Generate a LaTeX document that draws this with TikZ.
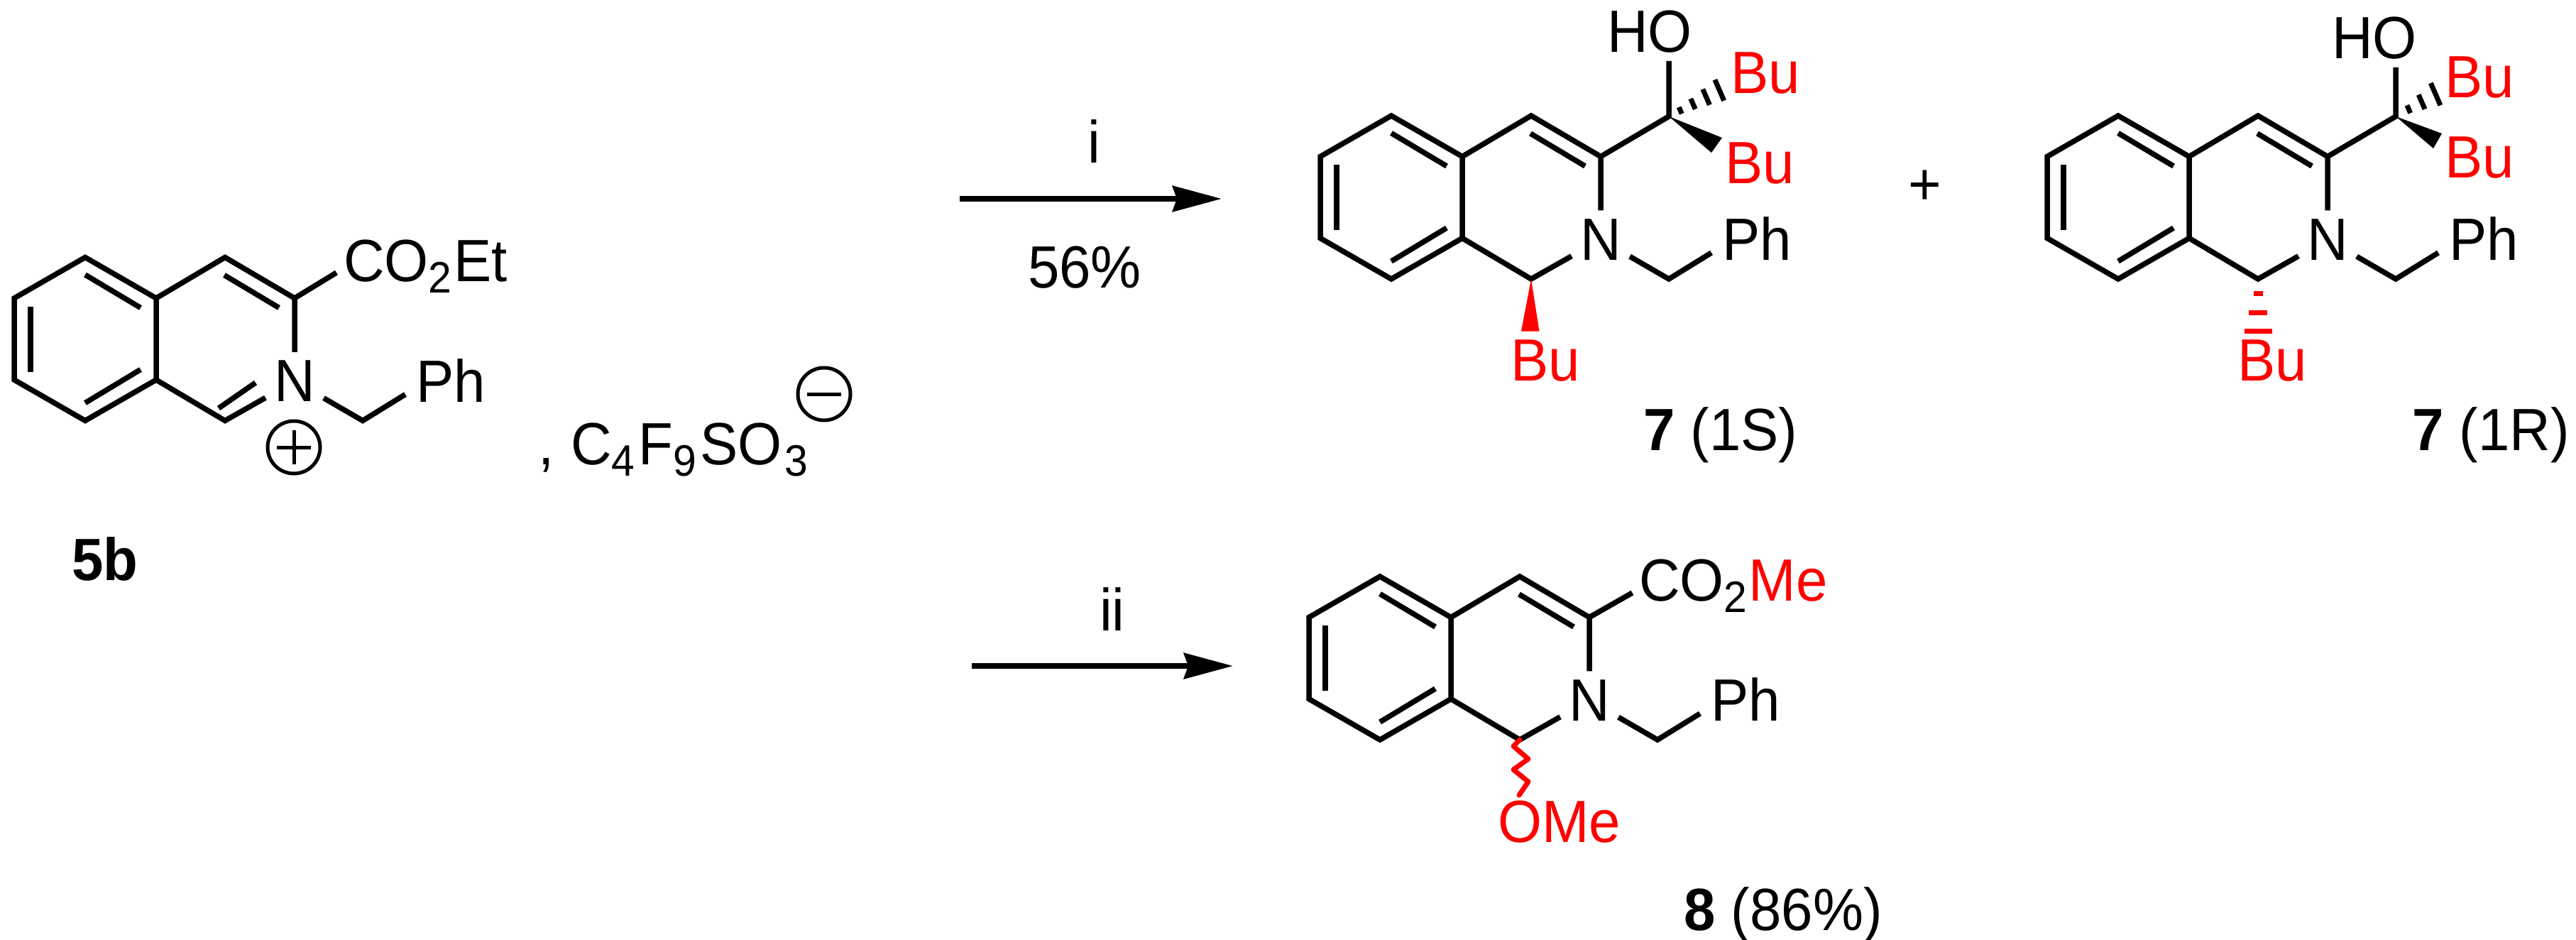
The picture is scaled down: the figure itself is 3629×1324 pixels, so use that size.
\documentclass[tikz,border=0pt]{standalone}
\usepackage{fontspec}
\setmainfont[FakeStretch=0.95]{Liberation Sans}
\usetikzlibrary{arrows.meta,calc}
\newcommand{\labelfont}{\fontsize{84}{88}\selectfont}
\newcommand{\sbs}[1]{\raisebox{-0.2em}{\fontsize{62}{64}\selectfont #1}}
\tikzset{
    bond/.style={line width=7.5pt,line join=miter},
    inner/.style={line width=7.5pt},
    atom/.style={inner sep=0pt,font=\labelfont,anchor=base west},
    natom/.style={inner sep=12pt,font=\labelfont},
    charge/.style={circle,draw,line width=5pt,inner sep=0pt,minimum size=74pt,font=\labelfont},
    rxn/.style={line width=8pt,-{Stealth[length=69pt,width=36pt,inset=6pt]}},
    isoq/.pic={
        \coordinate (-top) at (0,0);
        \coordinate (-lt) at (-100,57.5);
        \coordinate (-lb) at (-100,172.5);
        \coordinate (-bot) at (0,230);
        \coordinate (-jt) at (100,57.5);
        \coordinate (-jb) at (100,172.5);
        \coordinate (-ct) at (197,0);
        \coordinate (-cc) at (295,57.5);
        \coordinate (-cb) at (197,230);
        \coordinate (-ch) at (391,230);
        \coordinate (-pb) at (451,193);
        \coordinate (-i1) at (0,24.5);
        \coordinate (-i2) at (78,71);
        \coordinate (-i3) at (-77,69);
        \coordinate (-i4) at (-77,161);
        \coordinate (-i5) at (0,205);
        \coordinate (-i6) at (78,158);
        \coordinate (-i7) at (196,25);
        \coordinate (-i8) at (273,71);
        \node [natom](-N) at (295,174.5) {N};
        \node [atom](-Ph) at (466,203.5) {Ph};
        \draw [bond] (-top) -- (-lt) -- (-lb) -- (-bot) -- (-jb) -- (-jt) -- cycle;
        \draw [bond] (-jt) -- (-ct) -- (-cc) -- (-N);
        \draw [bond] (-jb) -- (-cb) -- (-N);
        \draw [bond] (-N) -- (-ch) -- (-pb);
        \draw [inner] (-i1) -- (-i2);
        \draw [inner] (-i3) -- (-i4);
        \draw [inner] (-i5) -- (-i6);
        \draw [inner] (-i7) -- (-i8);
    }
}
\begin{document}
\begin{tikzpicture}[x=1pt,y=-1pt]
    \useasboundingbox (0,0) rectangle (3629,1324);
    % salt
    \pic (s) at (120,362.5) {isoq};
    \node [atom](sco) at (484,396) {CO\sbs{2}\kern3ptEt};
    \coordinate (sb) at (474,384);
    \draw [bond] (s-cc) -- (sb);
    \coordinate (sd1) at (308,575);
    \coordinate (sd2) at (360,539);
    \draw [inner] (sd1) -- (sd2);
    \node [charge](plus) at (414,630) {};
    \coordinate (p1) at ($(plus)+(-24,0)$);
    \coordinate (p2) at ($(plus)+(24,0)$);
    \coordinate (p3) at ($(plus)+(0,-24)$);
    \coordinate (p4) at ($(plus)+(0,24)$);
    \draw [line width=5pt] (p1) -- (p2);
    \draw [line width=5pt] (p3) -- (p4);
    \node [atom](comma) at (758,654) {,};
    \node [atom](anion) at (804,654) {C\sbs{4}\kern5ptF\sbs{9}\kern5ptSO\kern4pt\sbs{3}};
    \node [charge](minus) at (1161,555) {};
    \coordinate (m1) at ($(minus)+(-24,0)$);
    \coordinate (m2) at ($(minus)+(24,0)$);
    \draw [line width=5pt] (m1) -- (m2);
    \node [atom,font=\labelfont\bfseries](lab5) at (101,817) {5b};

    % arrows
    \coordinate (a1) at (1352,280);
    \coordinate (a2) at (1721,280);
    \draw [rxn] (a1) -- (a2);
    \node [atom](ri) at (1532,230) {i};
    \node [atom](yield) at (1448,405) {56\%};
    \coordinate (a3) at (1369,938);
    \coordinate (a4) at (1737,938);
    \draw [rxn] (a3) -- (a4);
    \node [atom](rii) at (1549,888) {ii};

    % 1S
    \pic (p) at (1960,163) {isoq};
    \coordinate (pc) at (2351,164);
    \coordinate (poh) at (2351,86);
    \node [atom](pho) at (2264,74) {HO};
    \draw [bond] (p-cc) -- (pc) -- (poh);
    \node [atom,red](pbu1) at (2438,132) {Bu};
    \node [atom,red](pbu2) at (2430,259) {Bu};
    \node [atom,red](pbu3) at (2128,536) {Bu};
    \coordinate (pw1) at (2426,194);
    \coordinate (pw2) at (2411,215);
    \fill (pc) -- (pw1) -- (pw2) -- cycle;
    \foreach \t/\h in {0.2/5,0.42/8,0.65/12,0.88/16}{
        \draw [line width=7pt] ($(pc)!\t!(2432,122)+(-\h*0.4,-\h*0.92)$) -- ($(pc)!\t!(2432,122)+(\h*0.4,\h*0.92)$);
    }
    \coordinate (pw3) at (2143,466.5);
    \coordinate (pw4) at (2168.5,466.5);
    \fill [red] (p-cb) -- (pw3) -- (pw4) -- cycle;
    \node [atom](plab) at (2315,634) {\textbf{7} (1S)};

    \node [atom](plusb) at (2688,288) {+};

    % 1R
    \pic (q) at (2984,163) {isoq};
    \coordinate (qc) at (3375,164);
    \coordinate (qoh) at (3375,95);
    \node [atom](qho) at (3285,83) {HO};
    \draw [bond] (q-cc) -- (qc) -- (qoh);
    \node [atom,red](qbu1) at (3444,138) {Bu};
    \node [atom,red](qbu2) at (3444,251) {Bu};
    \node [atom,red](qbu3) at (3152,536) {Bu};
    \coordinate (qw1) at (3440,188);
    \coordinate (qw2) at (3428,209);
    \fill (qc) -- (qw1) -- (qw2) -- cycle;
    \foreach \t/\h in {0.3/6,0.6/11,0.92/17}{
        \draw [line width=7pt] ($(qc)!\t!(3436,130)+(-\h*0.4,-\h*0.92)$) -- ($(qc)!\t!(3436,130)+(\h*0.4,\h*0.92)$);
    }
    \foreach \y/\h in {413/6.5,440/13,466/19.5}{
        \draw [red,line width=7pt] ($(q-cb)+(-\h,\y-393)$) -- ($(q-cb)+(\h,\y-393)$);
    }
    \node [atom](qlab) at (3398,634) {\textbf{7} (1R)};

    % methyl ester
    \pic (r) at (1944,812) {isoq};
    \coordinate (rb) at (2299.5,835);
    \draw [bond] (r-cc) -- (rb);
    \node [atom](rco) at (2309,846) {CO\sbs{2}\kern2pt\textcolor{red}{Me}};
    \coordinate (w1) at (2132,1051);
    \coordinate (w2) at (2153,1069);
    \coordinate (w3) at (2132,1084);
    \coordinate (w4) at (2153,1101);
    \coordinate (w5) at (2140,1120);
    \draw [red,line width=7pt,line join=round,line cap=round] (r-cb) -- (w1) -- (w2) -- (w3) -- (w4) -- (w5);
    \node [atom,red](rome) at (2110,1186) {OMe};
    \node [atom](rlab) at (2372,1310) {\textbf{8} (86\%)};
\end{tikzpicture}
\end{document}
